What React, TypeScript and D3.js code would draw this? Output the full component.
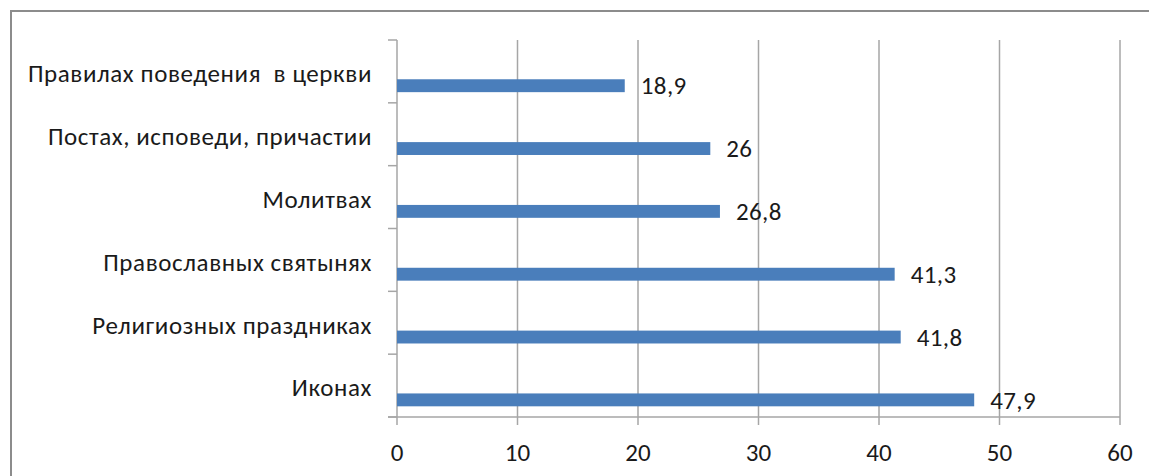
import React from "react";
import * as d3 from "d3";

const categories = [
  "Правилах поведения  в церкви",
  "Постах, исповеди, причастии",
  "Молитвах",
  "Православных святынях",
  "Религиозных праздниках",
  "Иконах",
];
const values = [18.9, 26, 26.8, 41.3, 41.8, 47.9];
const valueLabels = ["18,9", "26", "26,8", "41,3", "41,8", "47,9"];
const xTicks = [0, 10, 20, 30, 40, 50, 60];

const W = 1149;
const H = 476;
const plot = { left: 397, right: 1120, top: 40, bottom: 417 };
const FONT = "Carlito, Lato, 'Open Sans', sans-serif";
const FS = 25;
const GRID = "#a6a6a6";
const BAR = "#4a7ebb";
const TEXT = "#1a1a1a";

export default function App() {
  const x = d3.scaleLinear().domain([0, 60]).range([plot.left, plot.right]);
  const y = d3.scaleBand<string>().domain(categories).range([plot.top, plot.bottom]).padding(0);
  const bw = y.bandwidth();
  return (
    <svg
      width={W}
      height={H}
      style={{ position: "absolute", left: 0, top: 0, background: "#fff" }}
      fontFamily={FONT}
    >
      <rect x={0} y={0} width={W} height={H} fill="#fff" />
      <path d={`M11,${H} L11,11 L${W},11`} fill="none" stroke="#8c8c8c" strokeWidth={2} />
      {xTicks.map((t) => (
        <line key={"g" + t} x1={x(t)} x2={x(t)} y1={plot.top} y2={plot.bottom + 8} stroke={GRID} strokeWidth={1.5} />
      ))}
      {[...categories.map((c) => y(c) as number), plot.bottom].map((yy, i) => (
        <line key={"yt" + i} x1={plot.left - 9} x2={plot.left} y1={yy} y2={yy} stroke={GRID} strokeWidth={1.5} />
      ))}
      <line x1={plot.left - 9} x2={plot.right} y1={plot.bottom} y2={plot.bottom} stroke={GRID} strokeWidth={1.5} />
      {categories.map((c, i) => {
        const y0 = (y(c) as number) + bw * 0.625;
        const h = bw * 0.205;
        return (
          <g key={c}>
            <rect x={x(0)} y={y0} width={x(values[i]) - x(0)} height={h} fill={BAR} />
            <text x={x(values[i]) + 16} y={y0 + h / 2} dy="0.35em" fontSize={FS} fill={TEXT} letterSpacing={0.4}>
              {valueLabels[i]}
            </text>
            <text
              x={372}
              y={(y(c) as number) + bw / 2 + 2}
              dy="0.35em"
              textAnchor="end"
              fontSize={FS}
              fill={TEXT}
              letterSpacing={0.6}
              style={{ whiteSpace: "pre" }}
            >
              {c}
            </text>
          </g>
        );
      })}
      {xTicks.map((t) => (
        <text key={"xl" + t} x={x(t)} y={452} dy="0.35em" textAnchor="middle" fontSize={FS} fill={TEXT}>
          {t}
        </text>
      ))}
    </svg>
  );
}
